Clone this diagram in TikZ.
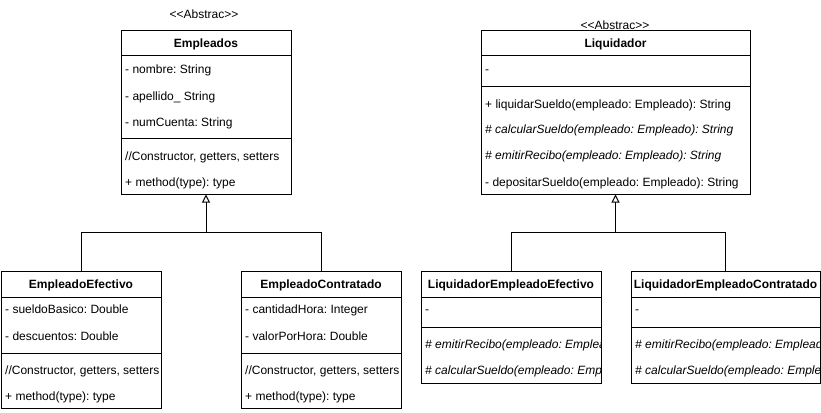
\documentclass[tikz,border=0pt]{standalone}
\usepackage{fontspec}
\setmainfont{Liberation Sans}
\usetikzlibrary{arrows.meta}
\frenchspacing
\newcommand{\fs}{\fontsize{12}{14}\selectfont}
\newcommand{\stereo}{<\kern0pt<Abstrac>\kern0pt>}
\begin{document}
\begin{tikzpicture}[x=1pt,y=-1pt,
  box/.style={draw, line width=1pt, rectangle, inner sep=0pt},
  lbl/.style={anchor=base west, inner sep=0pt, font=\fs},
  ilbl/.style={anchor=base west, inner sep=0pt, font=\fs\itshape},
  ttl/.style={anchor=base, inner sep=0pt, font=\fs\bfseries},
  ster/.style={anchor=base, inner sep=0pt, font=\fs},
  sep/.style={line width=1pt},
  inh/.style={line width=1pt, -{Triangle[open,length=8pt,width=8pt]}},
  conn/.style={line width=1pt}]
\useasboundingbox[fill=white] (0,0) rectangle (821,412);

% ---------- boxes ----------
\node[box, minimum width=170pt, minimum height=163pt] (emp) at (206,112.5) {};
\node[box, minimum width=269pt, minimum height=163pt] (liq) at (615.5,112.5) {};
\node[box, minimum width=160pt, minimum height=137pt] (ee) at (81,339.5) {};
\node[box, minimum width=160pt, minimum height=137pt] (ec) at (321,339.5) {};
\node[box, minimum width=180pt, minimum height=112pt] (lee) at (511,327) {};
\node[box, minimum width=189pt, minimum height=112pt] (lec) at (725.5,327) {};

% ---------- stereotypes ----------
\node[ster] (st1) at (204,19) {\stereo};
\node[ster] (st2) at (615,30) {\stereo};

% ---------- Empleados ----------
\draw[sep] (121,56) -- (291,56);
\draw[sep] (121,138) -- (291,138);
\begin{scope}
\clip (emp.north west) rectangle (emp.south east);
\node[ttl] (empT) at (206,48) {Empleados};
\node[lbl] (emp1) at (125,74) {- nombre: String};
\node[lbl] (emp2) at (125,100) {- apellido\_ String};
\node[lbl] (emp3) at (125,126) {- numCuenta: String};
\node[lbl] (emp4) at (125,160) {//Constructor, getters, setters};
\node[lbl] (emp5) at (125,186) {+ method(type): type};
\end{scope}

% ---------- Liquidador ----------
\draw[sep] (481,56) -- (750,56);
\draw[sep] (481,86) -- (750,86);
\begin{scope}
\clip (liq.north west) rectangle (liq.south east);
\node[ttl] (liqT) at (615.5,48) {Liquidador};
\node[lbl] (liq1) at (485,74) {-};
\node[lbl] (liq2) at (485,108) {+ liquidarSueldo(empleado: Empleado): String};
\node[ilbl] (liq3) at (485,133) {\# calcularSueldo(empleado: Empleado): String};
\node[ilbl] (liq4) at (485,159) {\# emitirRecibo(empleado: Empleado): String};
\node[lbl] (liq5) at (485,186) {- depositarSueldo(empleado: Empleado): String};
\end{scope}

% ---------- EmpleadoEfectivo ----------
\draw[sep] (1,297) -- (161,297);
\draw[sep] (1,353) -- (161,353);
\begin{scope}
\clip (ee.north west) rectangle (ee.south east);
\node[ttl] (eeT) at (81,288) {EmpleadoEfectivo};
\node[lbl] (ee1) at (5,313) {- sueldoBasico: Double};
\node[lbl] (ee2) at (5,340) {- descuentos: Double};
\node[lbl] (ee3) at (5,374) {//Constructor, getters, setters};
\node[lbl] (ee4) at (5,400) {+ method(type): type};
\end{scope}

% ---------- EmpleadoContratado ----------
\draw[sep] (241,297) -- (401,297);
\draw[sep] (241,353) -- (401,353);
\begin{scope}
\clip (ec.north west) rectangle (ec.south east);
\node[ttl] (ecT) at (321,288) {EmpleadoContratado};
\node[lbl] (ec1) at (245,313) {- cantidadHora: Integer};
\node[lbl] (ec2) at (245,340) {- valorPorHora: Double};
\node[lbl] (ec3) at (245,374) {//Constructor, getters, setters};
\node[lbl] (ec4) at (245,400) {+ method(type): type};
\end{scope}

% ---------- LiquidadorEmpleadoEfectivo ----------
\draw[sep] (421,297) -- (601,297);
\draw[sep] (421,327) -- (601,327);
\begin{scope}
\clip (lee.north west) rectangle (lee.south east);
\node[ttl] (leeT) at (511,288) {LiquidadorEmpleadoEfectivo};
\node[lbl] (lee1) at (425,313) {-};
\node[ilbl] (lee2) at (425,348) {\# emitirRecibo(empleado: Empleado): String};
\node[ilbl] (lee3) at (425,374) {\# calcularSueldo(empleado: Empleado): String};
\end{scope}

% ---------- LiquidadorEmpleadoContratado ----------
\draw[sep] (631,297) -- (820,297);
\draw[sep] (631,327) -- (820,327);
\begin{scope}
\clip (lec.north west) rectangle (lec.south east);
\node[ttl] (lecT) at (725.5,288) {LiquidadorEmpleadoContratado};
\node[lbl] (lec1) at (635,313) {-};
\node[ilbl] (lec2) at (635,348) {\# emitirRecibo(empleado: Empleado): String};
\node[ilbl] (lec3) at (635,374) {\# calcularSueldo(empleado: Empleado): String};
\end{scope}

% ---------- inheritance ----------
\coordinate (j1) at (emp.south |- 0,232);
\coordinate (j2) at (liq.south |- 0,232);
\draw[conn] (ec.north) |- (j1);
\draw[inh] (ee.north) |- (j1) -- (emp.south);
\draw[conn] (lec.north) |- (j2);
\draw[inh] (lee.north) |- (j2) -- (liq.south);
\end{tikzpicture}
\end{document}
